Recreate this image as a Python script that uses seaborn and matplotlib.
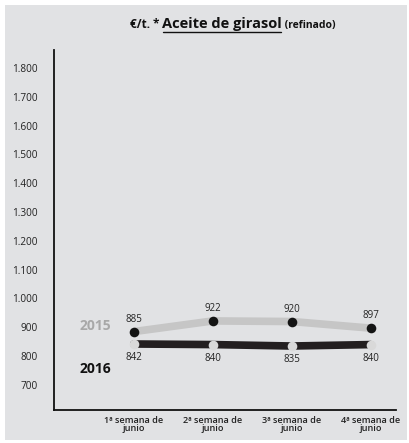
import numpy as np
import pandas as pd
import matplotlib
matplotlib.use("Agg")
import matplotlib.pyplot as plt
import seaborn as sns
from matplotlib.patches import Rectangle
from matplotlib.lines import Line2D

# data
weeks = ["1ª semana de\njunio", "2ª semana de\njunio", "3ª semana de\njunio", "4ª semana de\njunio"]
vals_2015 = [885, 922, 920, 897]
vals_2016 = [842, 840, 835, 840]
ytick_vals = [700, 800, 900, 1000, 1100, 1200, 1300, 1400, 1500, 1600, 1700, 1800]
ytick_labels = ["700", "800", "900", "1.000", "1.100", "1.200", "1.300", "1.400",
                "1.500", "1.600", "1.700", "1.800"]

sns.set_style("white")
plt.rcParams['font.family'] = ['Open Sans', 'DejaVu Sans']

bg = "#e1e2e4"
fig = plt.figure(figsize=(4.09, 4.43), dpi=100)
fig.patch.set_facecolor("white")
fig.patches.append(Rectangle((5/409, 3/443), 402/409, 435/443, transform=fig.transFigure,
                             facecolor=bg, edgecolor="none", zorder=-10))
ax = fig.add_axes([54/409, 1 - 410/443, 342/409, 360/443])
ax.set_facecolor("none")

x = np.arange(len(weeks))
df = pd.DataFrame({"x": np.concatenate([x, x]),
                   "val": vals_2015 + vals_2016,
                   "year": ["2015"] * 4 + ["2016"] * 4})

sns.lineplot(data=df, x="x", y="val", hue="year", palette={"2015": "#c6c6c6", "2016": "#231f20"},
             linewidth=5.5, legend=False, ax=ax, solid_capstyle="round", zorder=2)
ax.scatter(x, vals_2015, s=48, color="#141414", zorder=4, linewidths=0)
ax.scatter(x, vals_2016, s=48, color="#d9d9d9", zorder=4, linewidths=0)

for xi, v in zip(x, vals_2015):
    ax.annotate(str(v), (xi, v), xytext=(0, 5), textcoords="offset points",
                ha="center", va="bottom", fontsize=7, color="#222222")
for xi, v in zip(x, vals_2016):
    ax.annotate(str(v), (xi, v), xytext=(0, -6), textcoords="offset points",
                ha="center", va="top", fontsize=7, color="#222222")

ax.text(0.12, 0.232, "2015", transform=ax.transAxes, ha="center", va="center",
        fontsize=10, fontweight="bold", color="#a8a8a8")
ax.text(0.12, 0.115, "2016", transform=ax.transAxes, ha="center", va="center",
        fontsize=10, fontweight="bold", color="#111111")

# axes formatting
ax.set_xlim(-1.01, 3.32)
ax.set_ylim(613, 1862)
ax.set_xticks(x)
ax.set_xticklabels(weeks, fontsize=6.6, linespacing=0.95, fontweight="semibold", color="#222222")
ax.set_yticks(ytick_vals)
ax.set_yticklabels(ytick_labels, fontsize=7.2, color="#222222")
ax.set_xlabel("")
ax.set_ylabel("")
for side in ["top", "right"]:
    ax.spines[side].set_visible(False)
for side in ["left", "bottom"]:
    ax.spines[side].set_color("#111111")
    ax.spines[side].set_linewidth(1.3)
ax.tick_params(axis="x", direction="in", length=9, width=1, color="#333333", pad=4)
ax.tick_params(axis="y", length=0, pad=12)
ax.grid(False)

# title pieces
fig.canvas.draw()
r = fig.canvas.get_renderer()
ty = 1 - 28/443
xpos = 130/409
parts = [("€/t. * ", 8.5), ("Aceite de girasol", 10.5), (" (refinado)", 7.5)]
for i, (s, fs) in enumerate(parts):
    t = fig.text(xpos, ty, s, fontsize=fs, fontweight="bold", color="#111111",
                 ha="left", va="baseline")
    bb = t.get_window_extent(r).transformed(fig.transFigure.inverted())
    if i == 1:
        fig.lines.append(Line2D([bb.x0 + 1/409, bb.x1 - 1/409], [ty - 4/443, ty - 4/443],
                                transform=fig.transFigure, color="#111111", linewidth=1))
    xpos = bb.x1

fig.savefig("out.png", dpi=100, facecolor=fig.get_facecolor())
